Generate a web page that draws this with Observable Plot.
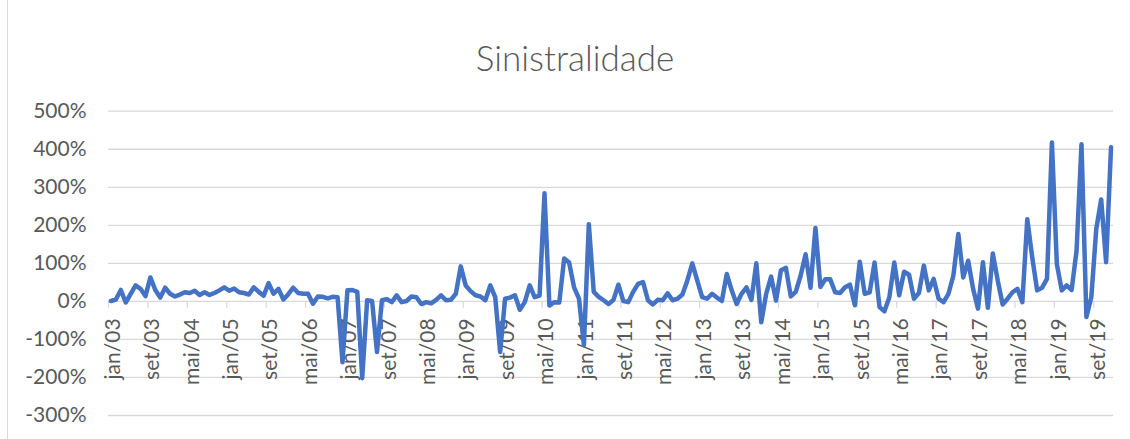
<!DOCTYPE html>
<html>
<head>
<meta charset="utf-8">
<script src="https://cdn.jsdelivr.net/npm/d3@7"></script>
<script src="https://cdn.jsdelivr.net/npm/@observablehq/plot@0.6"></script>
<style>
  html, body { margin: 0; padding: 0; background: #fff; overflow: hidden; }
  #wrap { position: relative; width: 1130px; height: 439px; }
  #border { position: absolute; left: 7px; top: -2px; width: 1130px; height: 450px; border-left: 1px solid #d9d9d9; box-sizing: border-box; }
  #title { position: absolute; left: 0; top: 0; width: 1130px; height: 90px; text-align: center; font-family: Lato, "Open Sans", sans-serif; font-weight: 300; font-size: 35px; color: #595959; line-height: 1; }
  #title span { position: absolute; left: 575px; top: 40px; transform: translateX(-50%); white-space: nowrap; }
  #chart { position: absolute; left: 0; top: 90px; }
</style>
</head>
<body>
<div id="wrap">
  <div id="border"></div>
  <div id="title"><span>Sinistralidade</span></div>
  <div id="chart"></div>
</div>
<script>
// Month abbreviations (pt-BR) and years covered
const monthNames = ["jan","fev","mar","abr","mai","jun","jul","ago","set","out","nov","dez"];
const years = ["03","04","05","06","07","08","09","10","11","12","13","14","15","16","17","18","19"];

// Monthly loss ratio (%), jan/03 .. dez/19
const values = [
  1, 5, 30, -3, 20, 42, 33, 14, 63, 30, 10, 36,
  20, 13, 18, 24, 22, 28, 17, 24, 17, 22, 29, 37,
  28, 34, 24, 22, 18, 37, 25, 15, 48, 20, 33, 5,
  19, 36, 22, 20, 20, -6, 13, 12, 8, 12, 11, -160,
  29, 30, 25, -202, 3, 1, -133, 3, 6, -2, 16, -2,
  1, 13, 11, -7, -2, -5, 4, 16, 3, 4, 20, 92,
  42, 27, 16, 13, 3, 42, 11, -133, 7, 10, 16, -22,
  -2, 42, 11, 15, 284, -11, -2, -3, 113, 102, 37, 7,
  -115, 203, 25, 12, 3, -7, 4, 44, 1, -2, 25, 46,
  51, 3, -8, 4, 3, 21, 3, 7, 18, 55, 100, 55,
  11, 7, 20, 10, 1, 72, 29, -7, 20, 37, 4, 100,
  -55, 20, 65, 2, 82, 88, 13, 25, 68, 124, 36, 193,
  38, 58, 58, 24, 22, 37, 44, -10, 104, 20, 24, 102,
  -15, -26, 11, 102, 16, 78, 70, 7, 22, 94, 29, 59,
  7, -2, 20, 68, 177, 63, 107, 33, -19, 103, -17, 126,
  55, -8, 7, 24, 33, -2, 216, 116, 29, 36, 59, 418,
  98, 29, 42, 30, 133, 413, -41, 11, 190, 268, 103, 405
];

// Y axis ticks (%)
const yTicks = [-300, -200, -100, 0, 100, 200, 300, 400, 500];
// Every 8th month is labelled
const labelStep = 8;

const categories = [];
years.forEach(y => monthNames.forEach(m => categories.push(m + "/" + y)));
const data = values.map((v, i) => ({idx: i, cat: categories[i], value: v}));
const labelled = data.filter(d => d.idx % labelStep === 0);

const chart = Plot.plot({
  width: 1130,
  height: 349,
  marginLeft: 108,
  marginRight: 17,
  marginTop: 20.7,
  marginBottom: 24,
  style: {fontFamily: "Lato, 'Open Sans', sans-serif", fontSize: "21px", color: "#595959", background: "transparent"},
  x: {domain: [0, categories.length], axis: null},
  y: {domain: [-300, 500], label: null},
  marks: [
    Plot.gridY(yTicks, {stroke: "#d9d9d9", strokeOpacity: 1, strokeWidth: 1.3}),
    Plot.axisY(yTicks, {tickFormat: d => d + "%", tickSize: 0, tickPadding: 22, fill: "#595959", fontSize: 21, label: null}),
    Plot.ruleX(labelled, {x: "idx", y1: 0, y2: -18, stroke: "#d9d9d9", strokeWidth: 1.3}),
    Plot.text(labelled, {x: d => d.idx + 0.5, y: 0, text: "cat", rotate: -90, textAnchor: "end", dy: 17, dx: 2, fill: "#595959", fontSize: 21}),
    Plot.line(data, {x: d => d.idx + 0.5, y: "value", stroke: "#4472C4", strokeWidth: 4.5, strokeLinejoin: "round", strokeLinecap: "round"})
  ]
});
document.getElementById("chart").appendChild(chart);
</script>
</body>
</html>
